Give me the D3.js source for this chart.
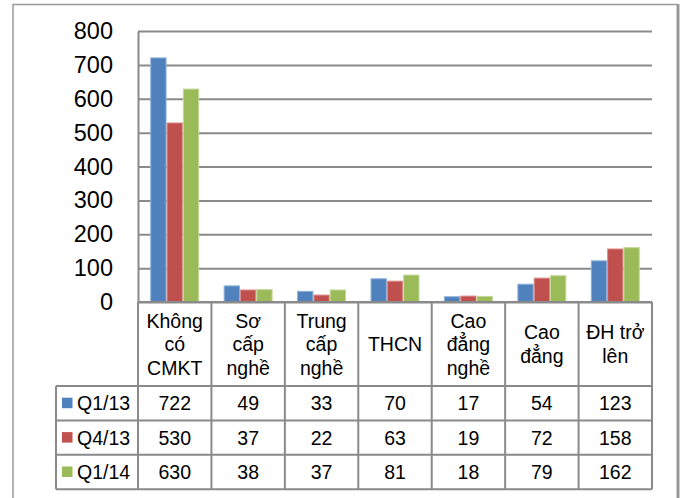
<!DOCTYPE html>
<html>
<head>
<meta charset="utf-8">
<script src="https://cdn.jsdelivr.net/npm/d3@7"></script>
<style>
  html, body { margin: 0; padding: 0; background: #fff; }
  svg { display: block; font-family: "Liberation Sans", Arial, sans-serif; }
</style>
</head>
<body>
<svg id="chart" width="681" height="498"></svg>
<script>
// Lao động thất nghiệp theo trình độ chuyên môn kỹ thuật (nghìn người)
const categories = ["Không\ncó\nCMKT", "Sơ\ncấp\nnghề", "Trung\ncấp\nnghề", "THCN", "Cao\nđẳng\nnghề", "Cao\nđẳng", "ĐH trở\nlên"];
const seriesNames = ["Q1/13", "Q4/13", "Q1/14"];
const valuesQ1_13 = [722, 49, 33, 70, 17, 54, 123];
const valuesQ4_13 = [530, 37, 22, 63, 19, 72, 158];
const valuesQ1_14 = [630, 38, 37, 81, 18, 79, 162];
const yTicks = [0, 100, 200, 300, 400, 500, 600, 700, 800];
const seriesColors = ["#4F81BD", "#C0504D", "#9BBB59"];
const seriesEdges = ["#8EB0DA", "#DB8F8D", "#C3D89A"];

const seriesValues = [valuesQ1_13, valuesQ4_13, valuesQ1_14];

const svg = d3.select("#chart");
const gridColor = "#8a8a8a";

// Chart frame
svg.append("line").attr("x1", 13).attr("x2", 678).attr("y1", 4.5).attr("y2", 4.5)
  .attr("stroke", "#9a9a9a").attr("stroke-width", 1.5);
svg.append("line").attr("x1", 13).attr("x2", 13).attr("y1", 4).attr("y2", 498)
  .attr("stroke", "#9a9a9a").attr("stroke-width", 1.5);
svg.append("line").attr("x1", 678).attr("x2", 678).attr("y1", 4).attr("y2", 498)
  .attr("stroke", "#9a9a9a").attr("stroke-width", 3);

const plot = { left: 138, right: 652, top: 31, bottom: 302 };

const x0 = d3.scaleBand().domain(categories).range([plot.left, plot.right]).padding(0);
const x1 = d3.scaleBand().domain(seriesNames).range([0, x0.bandwidth()])
  .paddingInner(0).paddingOuter(0.75);
const y = d3.scaleLinear().domain([0, 800]).range([plot.bottom, plot.top]);

// Value axis with gridlines
const yAxis = d3.axisLeft(y).tickValues(yTicks)
  .tickSizeInner(-(plot.right - plot.left)).tickSizeOuter(0).tickPadding(25);
const gy = svg.append("g").attr("transform", `translate(${plot.left},0)`).call(yAxis);
gy.select(".domain").attr("stroke", gridColor).attr("stroke-width", 2);
gy.selectAll(".tick line").attr("stroke", gridColor).attr("stroke-width", 2);
gy.selectAll(".tick text").attr("font-size", 23.5).attr("fill", "#000")
  .attr("font-family", "Liberation Sans, Arial, sans-serif");

// Bars
const groups = svg.append("g").selectAll("g")
  .data(categories).join("g")
  .attr("transform", d => `translate(${x0(d)},0)`);
groups.selectAll("rect")
  .data((d, i) => seriesNames.map((s, k) => ({ s, k, v: seriesValues[k][i] })))
  .join("rect")
  .attr("x", d => x1(d.s) + 0.5)
  .attr("width", x1.bandwidth() - 1)
  .attr("y", d => y(d.v) + 0.5)
  .attr("height", d => y(0) - y(d.v) - 0.5)
  .attr("fill", d => seriesColors[d.k])
  .attr("stroke", d => seriesEdges[d.k])
  .attr("stroke-width", 1);

// Data table
const headerBottom = 386;
const rowH = 34.4;
const legendLeft = 56;
const tableBottom = headerBottom + rowH * seriesNames.length;
const table = svg.append("g");

// Grid lines of the table
const hLines = [plot.bottom, headerBottom];
seriesNames.forEach((s, k) => hLines.push(headerBottom + rowH * (k + 1)));
table.selectAll("line.h").data(hLines).join("line")
  .attr("x1", (d, i) => i === 0 ? plot.left : legendLeft)
  .attr("x2", plot.right)
  .attr("y1", d => d).attr("y2", d => d)
  .attr("stroke", gridColor).attr("stroke-width", 2);
const vLines = categories.map(c => x0(c)).concat([plot.right]);
table.selectAll("line.v").data(vLines).join("line")
  .attr("x1", d => d).attr("x2", d => d)
  .attr("y1", plot.bottom).attr("y2", tableBottom)
  .attr("stroke", gridColor).attr("stroke-width", 2);
table.append("line").attr("x1", legendLeft).attr("x2", legendLeft)
  .attr("y1", headerBottom).attr("y2", tableBottom)
  .attr("stroke", gridColor).attr("stroke-width", 2);

// Category labels
const lineH = 23.5;
const headerMid = (plot.bottom + headerBottom) / 2;
categories.forEach(c => {
  const lines = c.split("\n");
  const t = table.append("text")
    .attr("text-anchor", "middle")
    .attr("font-size", 19.5).attr("fill", "#000");
  lines.forEach((ln, j) => {
    t.append("tspan")
      .attr("x", x0(c) + x0.bandwidth() / 2)
      .attr("y", headerMid + (j - (lines.length - 1) / 2) * lineH)
      .attr("dy", "0.36em")
      .text(ln);
  });
});

// Series rows: legend key, name and values
seriesNames.forEach((s, k) => {
  const cy = headerBottom + rowH * k + rowH / 2;
  table.append("rect").attr("x", 62).attr("y", cy - 5.5).attr("width", 10.5).attr("height", 10.5)
    .attr("fill", seriesColors[k]);
  table.append("text").attr("x", 77).attr("y", cy).attr("dy", "0.36em")
    .attr("font-size", 19.5).attr("fill", "#000").text(s);
  categories.forEach((c, i) => {
    table.append("text")
      .attr("x", x0(c) + x0.bandwidth() / 2).attr("y", cy).attr("dy", "0.36em")
      .attr("text-anchor", "middle").attr("font-size", 19.5).attr("fill", "#000")
      .text(seriesValues[k][i]);
  });
});
</script>
</body>
</html>
